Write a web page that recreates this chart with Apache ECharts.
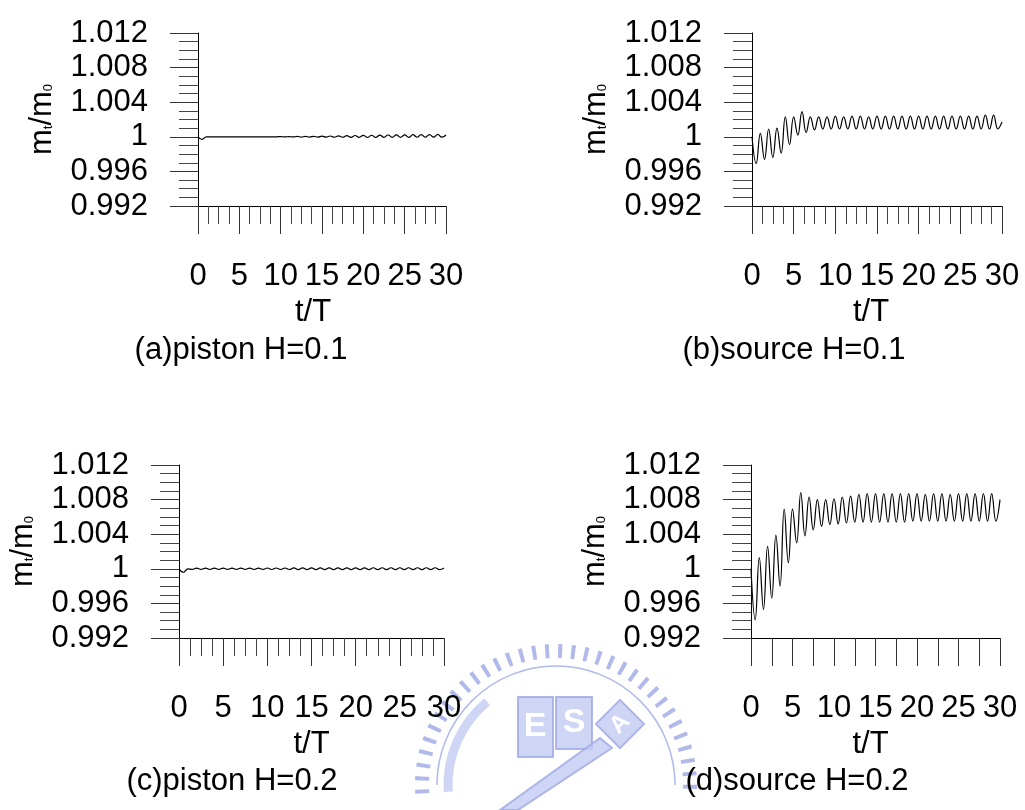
<!DOCTYPE html>
<html>
<head>
<meta charset="utf-8">
<script src="https://cdn.jsdelivr.net/npm/echarts@6.0.0/dist/echarts.min.js"></script>
<style>
html, body { margin: 0; padding: 0; background: #fff; }
#chart { width: 1025px; height: 810px; }
</style>
</head>
<body>
<div id="chart"></div>
<script>
// time axis t/T, sampled at every half period (peaks and troughs of the wave)
const tT = [
  0, 0.5, 1, 1.5, 2, 2.5, 3, 3.5, 4, 4.5, 5, 5.5, 6, 6.5, 7, 7.5, 8, 8.5, 9, 9.5,
  10, 10.5, 11, 11.5, 12, 12.5, 13, 13.5, 14, 14.5, 15, 15.5, 16, 16.5, 17, 17.5, 18, 18.5, 19, 19.5,
  20, 20.5, 21, 21.5, 22, 22.5, 23, 23.5, 24, 24.5, 25, 25.5, 26, 26.5, 27, 27.5, 28, 28.5, 29, 29.5, 30
];

// mass ratio m_t/m_0, piston wavemaker, H = 0.1
const pistonH01 = [
  1.0000, 0.9997, 1.0000, 1.0000, 1.0000, 1.0000, 1.0000, 1.0000, 1.0000, 1.0000,
  1.0000, 1.0000, 1.0000, 1.0000, 1.0000, 1.0000, 1.0000, 1.0000, 1.0000, 1.0000,
  1.00003, 0.99998, 1.00003, 0.99998, 1.00004, 0.99997, 1.00005, 0.99997, 1.00006, 0.99996,
  1.00008, 0.99996, 1.00009, 0.99995, 1.00011, 0.99995, 1.00013, 0.99994, 1.00015, 0.99994,
  1.00017, 0.99993, 1.00018, 0.99993, 1.00020, 0.99993, 1.00021, 0.99993, 1.00022, 0.99994,
  1.00023, 0.99994, 1.00024, 0.99995, 1.00025, 0.99995, 1.00026, 0.99996, 1.00027, 0.99996,
  1.00020
];

// mass ratio m_t/m_0, source wavemaker, H = 0.1
const sourceH01 = [
  1.0000, 0.9969, 1.0004, 0.9974, 1.0009, 0.9976, 1.0010, 0.9981, 1.0023, 0.9991,
  1.0023, 1.0002, 1.0029, 1.0005, 1.0023, 1.0008, 1.0023, 1.0009, 1.0023, 1.0009,
  1.0024, 1.0009, 1.0023, 1.0009, 1.0024, 1.0009, 1.0024, 1.0009, 1.0023, 1.0009,
  1.0024, 1.0009, 1.0024, 1.0009, 1.0024, 1.0009, 1.0024, 1.0009, 1.0024, 1.0009,
  1.0024, 1.0009, 1.0024, 1.0009, 1.0024, 1.0009, 1.0024, 1.0009, 1.0024, 1.0009,
  1.0024, 1.0009, 1.0024, 1.0009, 1.0024, 1.0009, 1.0025, 1.0009, 1.0025, 1.0009,
  1.0017
];

// mass ratio m_t/m_0, piston wavemaker, H = 0.2
const pistonH02 = [
  1.0000, 0.9996, 1.0000, 0.99993, 1.00008, 0.99993, 1.00008, 0.99993, 1.00008, 0.99993,
  1.00008, 0.99993, 1.00008, 0.99993, 1.00008, 0.99993, 1.00008, 0.99993, 1.00008, 0.99993,
  1.00009, 0.99992, 1.00009, 0.99992, 1.00009, 0.99992, 1.00010, 0.99991, 1.00010, 0.99991,
  1.00010, 0.99991, 1.00011, 0.99991, 1.00011, 0.99991, 1.00011, 0.99991, 1.00011, 0.99991,
  1.00011, 0.99991, 1.00011, 0.99991, 1.00012, 0.99991, 1.00012, 0.99991, 1.00012, 0.99991,
  1.00012, 0.99991, 1.00012, 0.99991, 1.00012, 0.99991, 1.00012, 0.99991, 1.00012, 0.99991,
  1.00010
];

// mass ratio m_t/m_0, source wavemaker, H = 0.2
const sourceH02 = [
  1.0000, 0.9941, 1.0013, 0.9953, 1.0026, 0.9966, 1.0039, 0.9980, 1.0069, 1.0007,
  1.0069, 1.0030, 1.0088, 1.0038, 1.0083, 1.0045, 1.0080, 1.0049, 1.0080, 1.0051,
  1.0081, 1.0052, 1.0083, 1.0053, 1.0084, 1.0054, 1.0086, 1.0054, 1.0087, 1.0054,
  1.0087, 1.0054, 1.0087, 1.0054, 1.0087, 1.0054, 1.0087, 1.0054, 1.0087, 1.0055,
  1.0087, 1.0055, 1.0086, 1.0055, 1.0087, 1.0055, 1.0087, 1.0055, 1.0086, 1.0055,
  1.0087, 1.0055, 1.0087, 1.0055, 1.0087, 1.0055, 1.0087, 1.0055, 1.0087, 1.0055,
  1.0080
];

// y-axis tick range
const yMin = 0.992, yMax = 1.012, yStep = 0.004;
// x-axis tick range
const xMin = 0, xMax = 30, xStep = 5;

const captions = ['(a)piston H=0.1', '(b)source H=0.1', '(c)piston H=0.2', '(d)source H=0.2'];

const FONT = '"Liberation Sans", Arial, sans-serif';
const INK = '#000';

const panels = [
  { grid: { left: 198, top: 33, width: 248, height: 173 }, data: pistonH01, caption: [241, 350], coarse: false, namePad: 18 },
  { grid: { left: 752, top: 33, width: 250, height: 173 }, data: sourceH01, caption: [794, 350], coarse: false, namePad: 12 },
  { grid: { left: 179, top: 465, width: 265, height: 173 }, data: pistonH02, caption: [232, 781], coarse: false, namePad: 0 },
  { grid: { left: 751, top: 465, width: 249, height: 173 }, data: sourceH02, caption: [797, 781], coarse: true, namePad: 10 }
];

const grids = [], xAxes = [], yAxes = [], series = [];

panels.forEach((p, i) => {
  grids.push(Object.assign({ containLabel: false, outerBoundsMode: 'none' }, p.grid));

  xAxes.push({
    type: 'value', gridIndex: i,
    min: xMin, max: xMax,
    interval: p.coarse ? xStep / 2 : xStep,
    axisLine: { show: true, onZero: false, lineStyle: { color: INK, width: 1 } },
    axisTick: { show: true, length: 28, lineStyle: { color: '#333', width: 1 } },
    minorTick: { show: !p.coarse, splitNumber: 4, length: 18, lineStyle: { color: '#444', width: 1 } },
    splitLine: { show: false },
    minorSplitLine: { show: false },
    axisLabel: {
      margin: 55, fontSize: 31, color: INK, fontFamily: FONT,
      formatter: v => (Math.abs(v % xStep) < 1e-9 ? String(Math.round(v)) : '')
    },
    name: 't/T', nameLocation: 'middle', nameGap: 91,
    nameMoveOverlap: false,
    nameTextStyle: { fontSize: 31, color: INK, fontFamily: FONT, padding: [0, p.namePad, 0, 0] }
  });

  yAxes.push({
    type: 'value', gridIndex: i,
    min: yMin, max: yMax, interval: yStep,
    axisLine: { show: true, onZero: false, lineStyle: { color: INK, width: 1 } },
    axisTick: { show: true, length: 28, lineStyle: { color: '#333', width: 1 } },
    minorTick: { show: true, splitNumber: 4, length: 19, lineStyle: { color: '#444', width: 1 } },
    splitLine: { show: false },
    minorSplitLine: { show: false },
    axisLabel: {
      margin: 50, fontSize: 31, color: INK, fontFamily: FONT,
      formatter: v => String(+v.toFixed(3))
    },
    name: 'm{s|t}/m{s|0}', nameLocation: 'middle', nameGap: 140,
    nameMoveOverlap: false,
    nameTextStyle: {
      fontSize: 31, color: INK, fontFamily: FONT,
      rich: { s: { fontSize: 13, color: INK, fontFamily: FONT, verticalAlign: 'bottom', padding: [0, 0, 3, 0] } }
    }
  });

  series.push({
    type: 'line', xAxisIndex: i, yAxisIndex: i,
    data: tT.map((t, k) => [t, p.data[k]]),
    showSymbol: false, smooth: 0.45,
    lineStyle: { color: INK, width: 1.2 },
    silent: true, animation: false, z: 5
  });
});

// panel captions
const graphics = panels.map((p, i) => ({
  type: 'text', x: p.caption[0], y: p.caption[1], z: 10,
  style: { text: captions[i], font: '31px ' + FONT, fill: INK, textAlign: 'center', textVerticalAlign: 'middle' }
}));

// university seal watermark behind the lower panels
const sealC = [556, 785];
const sealBlue = '#9ca7e4', sealLight = '#c3caf1';
const seal = { opacity: 0.8 };
graphics.push(
  { type: 'arc', z: 0, silent: true,
    shape: { cx: sealC[0], cy: sealC[1], r: 134, startAngle: Math.PI * 0.98, endAngle: Math.PI * 2.02 },
    style: Object.assign({ stroke: sealBlue, lineWidth: 14, lineDash: [4, 9], fill: 'none' }, seal) },
  { type: 'arc', z: 0, silent: true,
    shape: { cx: sealC[0], cy: sealC[1], r: 119, startAngle: Math.PI, endAngle: Math.PI * 2 },
    style: Object.assign({ stroke: sealBlue, lineWidth: 1.5, fill: 'none' }, seal) },
  { type: 'arc', z: 0, silent: true,
    shape: { cx: sealC[0], cy: sealC[1], r: 108, startAngle: Math.PI * 0.98, endAngle: Math.PI * 1.28 },
    style: Object.assign({ stroke: sealLight, lineWidth: 9, fill: 'none' }, seal) },
  { type: 'rect', z: 0, silent: true, shape: { x: 518, y: 697, width: 35, height: 60 },
    style: Object.assign({ fill: sealLight, stroke: sealBlue, lineWidth: 2 }, seal) },
  { type: 'rect', z: 0, silent: true, shape: { x: 556, y: 697, width: 36, height: 52 },
    style: Object.assign({ fill: sealLight, stroke: sealBlue, lineWidth: 2 }, seal) },
  { type: 'text', z: 0, silent: true, x: 535, y: 727,
    style: { text: 'E', font: 'bold 34px ' + FONT, fill: '#fff', textAlign: 'center', textVerticalAlign: 'middle' } },
  { type: 'text', z: 0, silent: true, x: 574, y: 723,
    style: { text: 'S', font: 'bold 34px ' + FONT, fill: '#fff', textAlign: 'center', textVerticalAlign: 'middle' } },
  { type: 'rect', z: 0, silent: true, x: 620, y: 724, rotation: Math.PI / 4,
    shape: { x: -17, y: -17, width: 34, height: 34 },
    style: Object.assign({ fill: sealLight, stroke: sealBlue, lineWidth: 2 }, seal) },
  { type: 'text', z: 0, silent: true, x: 620, y: 724, rotation: Math.PI / 4,
    style: { text: 'A', font: 'bold 24px ' + FONT, fill: '#fff', textAlign: 'center', textVerticalAlign: 'middle' } },
  { type: 'polygon', z: 0, silent: true,
    shape: { points: [[500, 810], [518, 810], [612, 748], [600, 738]] },
    style: Object.assign({ fill: sealLight, stroke: sealBlue, lineWidth: 2 }, seal) }
);

const chart = echarts.init(document.getElementById('chart'), null, { renderer: 'canvas' });
chart.setOption({
  animation: false,
  backgroundColor: '#fff',
  textStyle: { fontFamily: FONT },
  grid: grids,
  xAxis: xAxes,
  yAxis: yAxes,
  series: series,
  graphic: graphics
});
</script>
</body>
</html>
